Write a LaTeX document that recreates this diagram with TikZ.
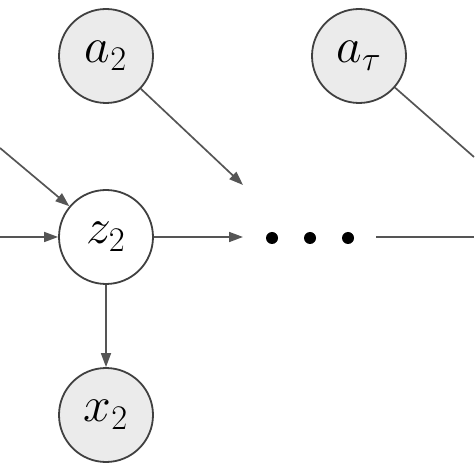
\documentclass[tikz,border=0pt]{standalone}
\usetikzlibrary{arrows.meta}
\definecolor{nodefill}{HTML}{EBEBEB}
\definecolor{linegray}{HTML}{555555}
\begin{document}
\begin{tikzpicture}[x=0.5pt,y=-0.5pt,
    var/.style={circle,draw=black!75,line width=0.9pt,minimum size=47pt,inner sep=0pt,
        font=\fontsize{26}{30}\selectfont},
    obs/.style={var,fill=nodefill},
    hid/.style={var,fill=white},
    edge/.style={draw=linegray,line width=0.85pt,-{Triangle[length=7pt,width=5pt]}},
    plain/.style={draw=linegray,line width=0.85pt},
    dot/.style={circle,fill=black,minimum size=6pt,inner sep=0pt}]
    \useasboundingbox (0,0) rectangle (474,474);

    % nodes
    \node[obs] (a2) at (106,56) {$a_{\scriptstyle 2}$};
    \node[obs] (atau) at (359,56) {$a_{\scriptstyle\tau}$};
    \node[hid] (z2) at (106,237) {$z_{\scriptstyle 2}$};
    \node[obs] (x2) at (106,415) {$x_{\scriptstyle 2}$};

    % dots
    \node[dot] (d1) at (272,238) {};
    \node[dot] (d2) at (310,238) {};
    \node[dot] (d3) at (348,238) {};

    % free ends
    \coordinate (inleft) at (0,237);
    \coordinate (indiag) at (0,148);
    \coordinate (a2tip) at (243,185);
    \coordinate (z2tip) at (243,237);
    \coordinate (outstart) at (376,237);
    \coordinate (outright) at (474,237);
    \coordinate (atauend) at (474,157);

    % edges
    \draw[edge] (inleft) -- (z2);
    \draw[edge] (indiag) -- (z2);
    \draw[edge] (a2) -- (a2tip);
    \draw[edge] (z2) -- (z2tip);
    \draw[edge] (z2) -- (x2);
    \draw[plain] (outstart) -- (outright);
    \draw[plain] (atau) -- (atauend);
\end{tikzpicture}
\end{document}
